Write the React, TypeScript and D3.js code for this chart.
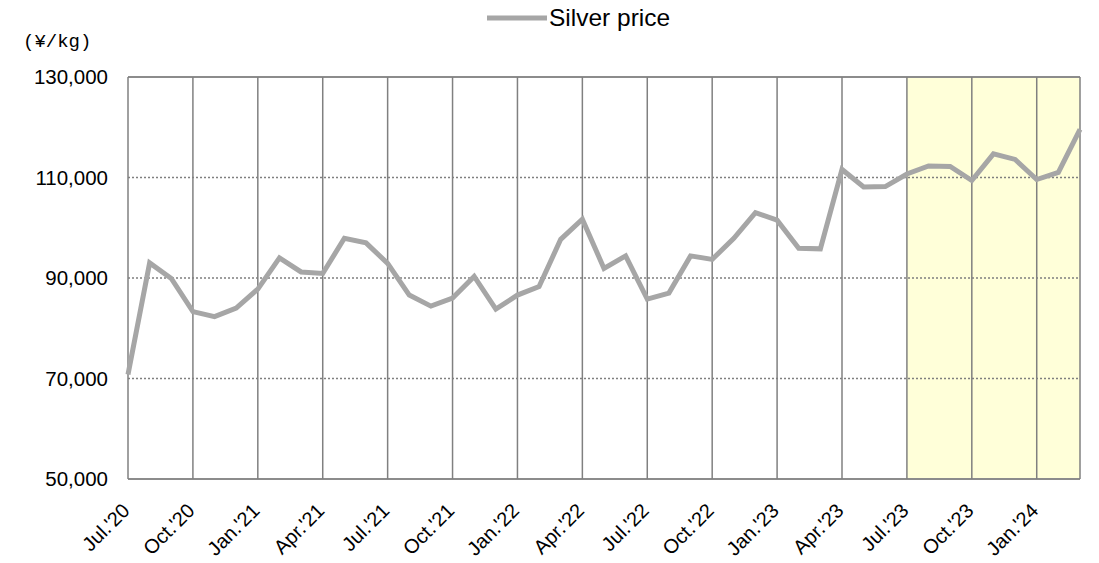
import React from "react";
import * as d3 from "d3";

// Monthly silver price, Jul 2020 – Mar 2024 (¥/kg)
const months: string[] = [
  "2020-07", "2020-08", "2020-09", "2020-10", "2020-11", "2020-12",
  "2021-01", "2021-02", "2021-03", "2021-04", "2021-05", "2021-06",
  "2021-07", "2021-08", "2021-09", "2021-10", "2021-11", "2021-12",
  "2022-01", "2022-02", "2022-03", "2022-04", "2022-05", "2022-06",
  "2022-07", "2022-08", "2022-09", "2022-10", "2022-11", "2022-12",
  "2023-01", "2023-02", "2023-03", "2023-04", "2023-05", "2023-06",
  "2023-07", "2023-08", "2023-09", "2023-10", "2023-11", "2023-12",
  "2024-01", "2024-02", "2024-03",
];

const silverPrice: number[] = [
  70800, 93000, 89900, 83300, 82300, 84000,
  87800, 94000, 91200, 90900, 97900, 97000,
  92900, 86600, 84400, 86000, 90300, 83800,
  86600, 88300, 97700, 101700, 91900, 94400,
  85800, 87000, 94400, 93700, 97900, 103000,
  101500, 95900, 95800, 111600, 108100, 108200,
  110700, 112300, 112200, 109400, 114700, 113600,
  109600, 111000, 119600,
];

// Quarter labels shown on the x axis
const tickMonths: string[] = [
  "2020-07", "2020-10", "2021-01", "2021-04", "2021-07", "2021-10",
  "2022-01", "2022-04", "2022-07", "2022-10", "2023-01", "2023-04",
  "2023-07", "2023-10", "2024-01",
];
const tickLabels: string[] = [
  "Jul.'20", "Oct.'20", "Jan.'21", "Apr.'21", "Jul.'21", "Oct.'21",
  "Jan.'22", "Apr.'22", "Jul.'22", "Oct.'22", "Jan.'23", "Apr.'23",
  "Jul.'23", "Oct.'23", "Jan.'24",
];

const yTicks: number[] = [50000, 70000, 90000, 110000, 130000];
const yGridDotted: number[] = [70000, 90000, 110000];

// Highlighted period (from Jul.'23 to the end)
const highlightStart = "2023-07";

const W = 1099;
const H = 563;
const M = { left: 128, right: 1080, top: 77, bottom: 479 };

export default function App() {
  const x = d3
    .scalePoint<string>()
    .domain(months)
    .range([M.left, M.right]);
  const y = d3.scaleLinear().domain([50000, 130000]).range([M.bottom, M.top]);

  const line = d3
    .line<number>()
    .x((_, i) => x(months[i]) as number)
    .y((d) => y(d));

  const fmt = d3.format(",");
  const font = "'Liberation Sans', Arial, sans-serif";
  const hx = x(highlightStart) as number;

  return (
    <svg
      width={W}
      height={H}
      style={{ position: "absolute", left: 0, top: 0, background: "#fff" }}
    >
      {/* highlighted period */}
      <rect
        x={hx}
        y={M.top}
        width={M.right - hx}
        height={M.bottom - M.top}
        fill="#ffffd9"
      />

      {/* horizontal dotted grid */}
      {yGridDotted.map((v) => (
        <line
          key={v}
          x1={M.left}
          x2={M.right}
          y1={y(v)}
          y2={y(v)}
          stroke="#7f7f7f"
          strokeWidth={1.3}
          strokeDasharray="2,2"
        />
      ))}

      {/* top and bottom frame */}
      <line x1={M.left} x2={M.right} y1={M.top} y2={M.top} stroke="#8c8c8c" strokeWidth={2} />
      <line x1={M.left} x2={M.right} y1={M.bottom} y2={M.bottom} stroke="#8c8c8c" strokeWidth={2} />

      {/* vertical quarter grid */}
      {tickMonths.map((m) => (
        <line
          key={m}
          x1={x(m)}
          x2={x(m)}
          y1={M.top}
          y2={M.bottom}
          stroke="#808080"
          strokeWidth={1.5}
        />
      ))}
      <line x1={M.right} x2={M.right} y1={M.top} y2={M.bottom} stroke="#808080" strokeWidth={1.5} />

      {/* price line */}
      <path
        d={line(silverPrice) ?? ""}
        fill="none"
        stroke="#a6a6a6"
        strokeWidth={5}
        strokeLinejoin="miter"
      />

      {/* y axis labels */}
      {yTicks.map((v) => (
        <text
          key={v}
          x={108}
          y={y(v)}
          dy="0.35em"
          textAnchor="end"
          fontFamily={font}
          fontSize={20.5}
          fill="#000"
        >
          {fmt(v)}
        </text>
      ))}

      {/* x axis labels */}
      {tickMonths.map((m, i) => (
        <text
          key={m}
          transform={`translate(${(x(m) as number) - 2},${M.bottom + 28}) rotate(-45)`}
          textAnchor="end"
          dy="0.35em"
          fontFamily={font}
          fontSize={20}
          fill="#000"
        >
          {tickLabels[i]}
        </text>
      ))}

      {/* unit */}
      <text x={23} y={47} fontFamily="'Liberation Mono', 'DejaVu Sans Mono', monospace" fontSize={19} fill="#000">
        (¥/kg)
      </text>

      {/* legend */}
      <line x1={487} x2={547} y1={18} y2={18} stroke="#a6a6a6" strokeWidth={5} />
      <text x={549} y={26} fontFamily={font} fontSize={24.5} fill="#000">
        Silver price
      </text>
    </svg>
  );
}
